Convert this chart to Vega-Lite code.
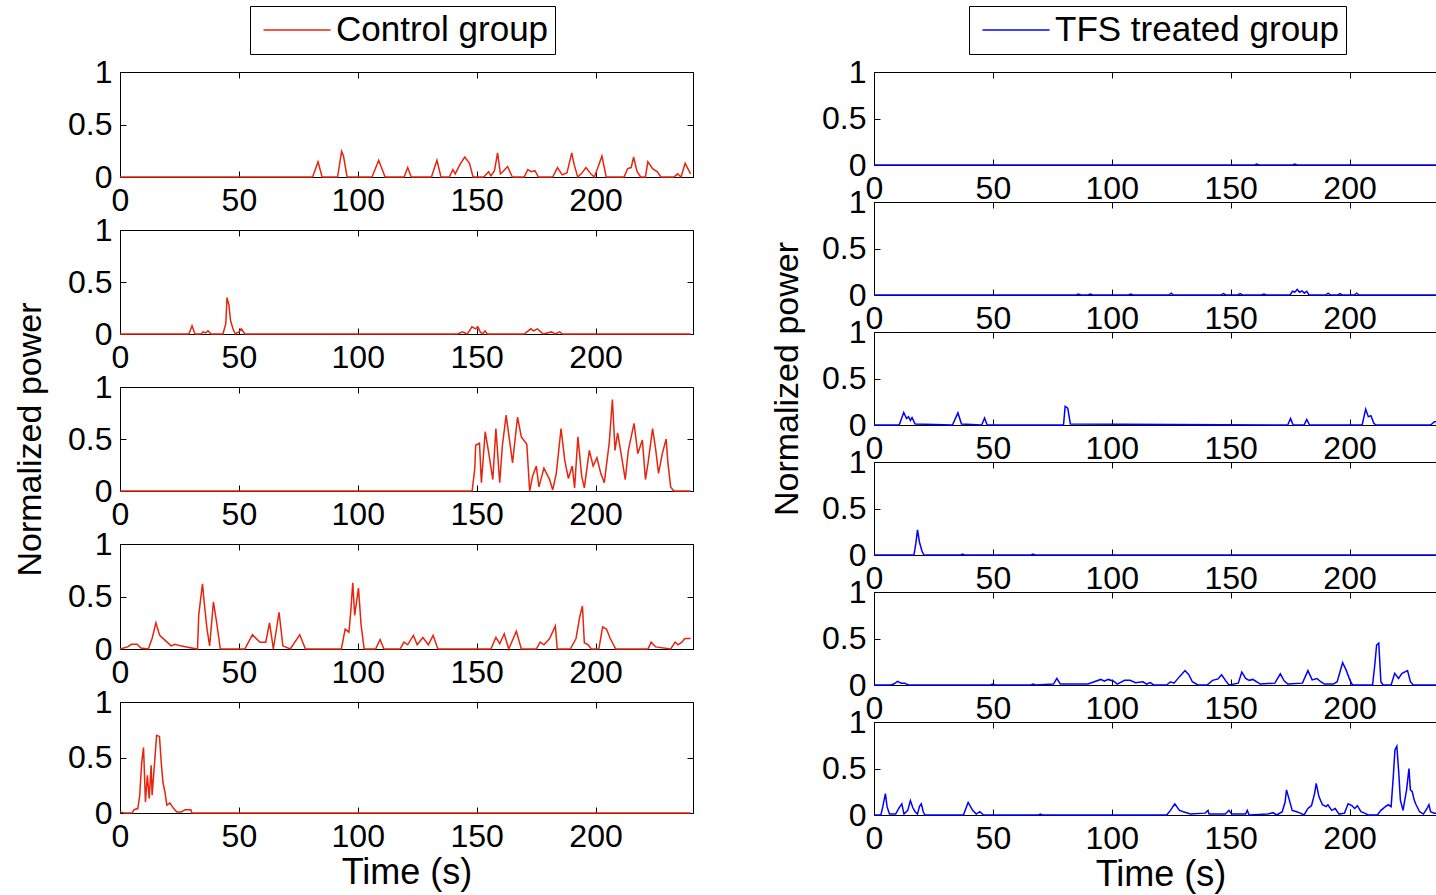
{
"$schema": "https://vega.github.io/schema/vega-lite/v6.json",
"background": "white",
"padding": {"left": 13, "top": 5, "right": 5, "bottom": 5},
"config": {
  "font": "Liberation Sans",
  "view": {"stroke": "black", "strokeWidth": 1},
  "axis": {"domainColor": "black", "tickColor": "black", "tickSize": -6, "labelPadding": 14, "labelFont": "Liberation Sans", "labelFontSize": 32, "labelColor": "black", "titleFont": "Liberation Sans", "titleFontSize": 34, "titleFontWeight": "normal", "titleColor": "black", "grid": false, "labelFlush": false, "labelOverlap": false, "labelBound": false},
  "legend": {"title": null, "orient": "none", "symbolType": "M-2,0H2", "symbolSize": 1125, "symbolStrokeWidth": 1.5, "symbolOffset": 23, "labelOffset": 21, "labelLimit": 0, "labelFontSize": 35, "labelFont": "Liberation Sans", "labelColor": "black", "strokeColor": "black", "fillColor": "white", "padding": 6}
},
"datasets": {
  "c1": [{"t":0,"p":0},{"t":81,"p":0},{"t":83.3,"p":0.145},{"t":85,"p":0},{"t":91.5,"p":0},{"t":93.2,"p":0.245},{"t":94,"p":0.2},{"t":95.5,"p":0},{"t":106,"p":0},{"t":108.8,"p":0.16},{"t":111.5,"p":0},{"t":119.5,"p":0},{"t":121,"p":0.09},{"t":122.5,"p":0},{"t":131,"p":0},{"t":133.3,"p":0.16},{"t":135,"p":0},{"t":138.5,"p":0},{"t":140,"p":0.07},{"t":141,"p":0.03},{"t":143,"p":0.12},{"t":145,"p":0.19},{"t":147,"p":0.13},{"t":148.5,"p":0},{"t":153,"p":0},{"t":155,"p":0.05},{"t":156,"p":0.01},{"t":157.5,"p":0.06},{"t":158.8,"p":0.23},{"t":160,"p":0.03},{"t":161,"p":0.05},{"t":163,"p":0.1},{"t":165,"p":0},{"t":170,"p":0},{"t":171.5,"p":0.07},{"t":173,"p":0.05},{"t":174.5,"p":0.06},{"t":176,"p":0},{"t":182,"p":0},{"t":184,"p":0.09},{"t":186,"p":0.02},{"t":188,"p":0.04},{"t":190,"p":0.23},{"t":191,"p":0.12},{"t":192.5,"p":0},{"t":194,"p":0.03},{"t":196,"p":0.09},{"t":198,"p":0.03},{"t":199.5,"p":0},{"t":201,"p":0.09},{"t":202.7,"p":0.2},{"t":204.5,"p":0},{"t":212,"p":0},{"t":213.5,"p":0.08},{"t":215,"p":0.09},{"t":216,"p":0.19},{"t":217.5,"p":0.05},{"t":219,"p":0},{"t":221,"p":0},{"t":222,"p":0.145},{"t":224,"p":0.08},{"t":226,"p":0.05},{"t":227.5,"p":0},{"t":233,"p":0},{"t":234.5,"p":0.03},{"t":236,"p":0},{"t":237.7,"p":0.13},{"t":240,"p":0.03}],
  "c2": [{"t":0,"p":0},{"t":29,"p":0},{"t":30.3,"p":0.08},{"t":31.5,"p":0},{"t":34,"p":0},{"t":35,"p":0.02},{"t":36,"p":0.01},{"t":37,"p":0.03},{"t":38.3,"p":0},{"t":43.3,"p":0},{"t":44.5,"p":0.1},{"t":45,"p":0.35},{"t":45.8,"p":0.28},{"t":46.5,"p":0.13},{"t":47.5,"p":0.05},{"t":48.5,"p":0},{"t":50,"p":0.02},{"t":51,"p":0.05},{"t":52.5,"p":0},{"t":142,"p":0},{"t":144,"p":0.02},{"t":146,"p":0},{"t":147,"p":0.03},{"t":148,"p":0.07},{"t":149.5,"p":0.05},{"t":150.5,"p":0.07},{"t":151.5,"p":0.02},{"t":152.5,"p":0},{"t":153.5,"p":0.03},{"t":154.5,"p":0},{"t":170,"p":0},{"t":172.8,"p":0.05},{"t":174,"p":0.03},{"t":175.5,"p":0.05},{"t":177,"p":0.02},{"t":178,"p":0},{"t":181.5,"p":0.02},{"t":183,"p":0},{"t":185,"p":0.02},{"t":186,"p":0},{"t":240,"p":0}],
  "c3": [{"t":0,"p":0},{"t":148.1,"p":0},{"t":149.2,"p":0.21},{"t":149.6,"p":0.44},{"t":151.2,"p":0.46},{"t":152,"p":0.08},{"t":153.6,"p":0.57},{"t":155.2,"p":0.35},{"t":156.8,"p":0.11},{"t":158.1,"p":0.6},{"t":159.7,"p":0.08},{"t":160.8,"p":0.43},{"t":162.4,"p":0.73},{"t":164,"p":0.46},{"t":165.1,"p":0.27},{"t":167.2,"p":0.71},{"t":168.8,"p":0.52},{"t":171.1,"p":0.45},{"t":172.3,"p":0},{"t":173.5,"p":0.14},{"t":175.1,"p":0.24},{"t":176.2,"p":0.04},{"t":178.3,"p":0.22},{"t":180.7,"p":0.11},{"t":182,"p":0.01},{"t":183.5,"p":0.17},{"t":185.5,"p":0.6},{"t":187.1,"p":0.29},{"t":188.6,"p":0.12},{"t":190.2,"p":0.24},{"t":191.2,"p":0.03},{"t":192.6,"p":0.52},{"t":194.2,"p":0.14},{"t":195.3,"p":0.03},{"t":197.4,"p":0.39},{"t":199,"p":0.24},{"t":200.6,"p":0.32},{"t":202.2,"p":0.17},{"t":203.7,"p":0.08},{"t":205.8,"p":0.47},{"t":207.1,"p":0.88},{"t":208.2,"p":0.39},{"t":209.3,"p":0.56},{"t":210.9,"p":0.34},{"t":212.5,"p":0.11},{"t":213.8,"p":0.39},{"t":216.2,"p":0.65},{"t":217.8,"p":0.36},{"t":219.7,"p":0.49},{"t":221,"p":0.11},{"t":222.1,"p":0.27},{"t":224,"p":0.6},{"t":225.3,"p":0.4},{"t":226.5,"p":0.17},{"t":228.1,"p":0.36},{"t":229.7,"p":0.5},{"t":230.5,"p":0.26},{"t":231.6,"p":0.04},{"t":232.9,"p":0},{"t":240,"p":0}],
  "c4": [{"t":0,"p":0},{"t":3.2,"p":0.02},{"t":4.8,"p":0.045},{"t":7.2,"p":0.045},{"t":8.8,"p":0.01},{"t":11.9,"p":0},{"t":13.5,"p":0.1},{"t":15.1,"p":0.25},{"t":16.7,"p":0.13},{"t":19.1,"p":0.08},{"t":21.5,"p":0.03},{"t":23.1,"p":0.045},{"t":25.5,"p":0.03},{"t":27.9,"p":0.02},{"t":30.2,"p":0.01},{"t":32.6,"p":0},{"t":33.1,"p":0.32},{"t":34.2,"p":0.53},{"t":34.7,"p":0.62},{"t":35.3,"p":0.47},{"t":36.6,"p":0.19},{"t":37.7,"p":0.03},{"t":39.3,"p":0.45},{"t":40.6,"p":0.26},{"t":42.2,"p":0},{"t":52.5,"p":0},{"t":55.7,"p":0.135},{"t":58.9,"p":0.065},{"t":61.3,"p":0.065},{"t":62.9,"p":0.25},{"t":64.5,"p":0},{"t":66.9,"p":0.35},{"t":68.5,"p":0.03},{"t":71.6,"p":0},{"t":75.6,"p":0.135},{"t":78,"p":0},{"t":93.1,"p":0},{"t":94.7,"p":0.19},{"t":96.3,"p":0.16},{"t":97.1,"p":0.37},{"t":97.9,"p":0.63},{"t":98.7,"p":0.32},{"t":99.5,"p":0.45},{"t":100.3,"p":0.58},{"t":101.4,"p":0.23},{"t":102.7,"p":0},{"t":107.5,"p":0},{"t":109.4,"p":0.09},{"t":111,"p":0},{"t":117.8,"p":0},{"t":119.4,"p":0.065},{"t":121,"p":0.04},{"t":123.4,"p":0.13},{"t":125,"p":0.04},{"t":127.4,"p":0.11},{"t":129.7,"p":0.04},{"t":131.7,"p":0.13},{"t":133.7,"p":0},{"t":156,"p":0},{"t":158.1,"p":0.11},{"t":159.7,"p":0.05},{"t":161.6,"p":0.145},{"t":163.5,"p":0},{"t":166.7,"p":0.17},{"t":168.8,"p":0},{"t":175.1,"p":0},{"t":176.7,"p":0.065},{"t":178.3,"p":0.04},{"t":180.7,"p":0.1},{"t":183.1,"p":0.22},{"t":183.9,"p":0},{"t":189.4,"p":0},{"t":191.8,"p":0.1},{"t":193.4,"p":0.31},{"t":194.5,"p":0.41},{"t":195.3,"p":0.06},{"t":196.9,"p":0.04},{"t":198.2,"p":0},{"t":201.4,"p":0},{"t":203,"p":0.21},{"t":204.6,"p":0.19},{"t":206.2,"p":0.1},{"t":208.5,"p":0},{"t":222.1,"p":0},{"t":223.4,"p":0.065},{"t":225.3,"p":0.02},{"t":231.6,"p":0},{"t":233.5,"p":0.065},{"t":234.7,"p":0.04},{"t":236.3,"p":0.065},{"t":237.6,"p":0.1},{"t":240,"p":0.1}],
  "c5": [{"t":0,"p":0.01},{"t":1.9,"p":0},{"t":5.1,"p":0},{"t":5.9,"p":0.03},{"t":7.5,"p":0.04},{"t":8.3,"p":0.16},{"t":9.1,"p":0.45},{"t":9.9,"p":0.59},{"t":10.7,"p":0.1},{"t":11.5,"p":0.34},{"t":12.3,"p":0.13},{"t":13.1,"p":0.43},{"t":13.5,"p":0.16},{"t":14.6,"p":0.47},{"t":15.4,"p":0.7},{"t":16.6,"p":0.69},{"t":17.4,"p":0.44},{"t":18.1,"p":0.27},{"t":18.9,"p":0.19},{"t":19.7,"p":0.07},{"t":21,"p":0.09},{"t":22.6,"p":0.04},{"t":23.9,"p":0.01},{"t":25.8,"p":0.01},{"t":27.4,"p":0.03},{"t":29.8,"p":0.03},{"t":30.2,"p":0},{"t":240,"p":0}],
  "r1": [{"t":0,"p":0},{"t":160,"p":0},{"t":161,"p":0.01},{"t":162,"p":0},{"t":176,"p":0},{"t":177,"p":0.01},{"t":178,"p":0},{"t":240,"p":0}],
  "r2": [{"t":0,"p":0},{"t":85,"p":0},{"t":86,"p":0.01},{"t":87,"p":0},{"t":90,"p":0},{"t":91,"p":0.01},{"t":92,"p":0},{"t":107,"p":0},{"t":108,"p":0.01},{"t":109,"p":0},{"t":124,"p":0},{"t":125,"p":0.02},{"t":126,"p":0},{"t":146,"p":0},{"t":147,"p":0.015},{"t":148,"p":0},{"t":153,"p":0},{"t":154,"p":0.015},{"t":155,"p":0},{"t":163,"p":0},{"t":164,"p":0.01},{"t":165,"p":0},{"t":175,"p":0},{"t":176,"p":0.04},{"t":177,"p":0.03},{"t":178,"p":0.06},{"t":179,"p":0.03},{"t":180,"p":0.045},{"t":181,"p":0.02},{"t":182,"p":0.04},{"t":183,"p":0},{"t":190,"p":0},{"t":191,"p":0.02},{"t":192,"p":0},{"t":195,"p":0},{"t":196,"p":0.015},{"t":197,"p":0},{"t":202,"p":0},{"t":203,"p":0.02},{"t":204,"p":0},{"t":240,"p":0}],
  "r3": [{"t":0,"p":0},{"t":10.6,"p":0},{"t":12.5,"p":0.135},{"t":13.7,"p":0.07},{"t":14.5,"p":0.09},{"t":15.3,"p":0.05},{"t":16,"p":0.08},{"t":17.3,"p":0.01},{"t":33,"p":0},{"t":35.3,"p":0.13},{"t":36.8,"p":0.01},{"t":45.3,"p":0},{"t":46.5,"p":0.075},{"t":47.6,"p":0},{"t":79.7,"p":0},{"t":80.4,"p":0.2},{"t":81.5,"p":0.18},{"t":82.6,"p":0.01},{"t":174,"p":0},{"t":175.2,"p":0.07},{"t":176.3,"p":0},{"t":180.9,"p":0},{"t":182,"p":0.06},{"t":183.2,"p":0},{"t":205.3,"p":0},{"t":206.8,"p":0.17},{"t":207.9,"p":0.09},{"t":209,"p":0.1},{"t":210.2,"p":0.02},{"t":211,"p":0},{"t":234.1,"p":0},{"t":235.7,"p":0.035},{"t":240,"p":0.03}],
  "r4": [{"t":0,"p":0},{"t":16.8,"p":0},{"t":17.6,"p":0.125},{"t":18.3,"p":0.27},{"t":19.1,"p":0.14},{"t":20.2,"p":0.04},{"t":21,"p":0},{"t":36.5,"p":0},{"t":37.3,"p":0.01},{"t":38,"p":0},{"t":66,"p":0},{"t":66.9,"p":0.01},{"t":67.7,"p":0},{"t":240,"p":0}],
  "r5": [{"t":0,"p":0},{"t":7,"p":0},{"t":8.3,"p":0.01},{"t":9.9,"p":0.04},{"t":11.4,"p":0.02},{"t":12.9,"p":0.02},{"t":14.5,"p":0},{"t":49,"p":0},{"t":49.9,"p":0.01},{"t":51,"p":0},{"t":66,"p":0},{"t":66.9,"p":0.01},{"t":68,"p":0},{"t":75.5,"p":0.01},{"t":76.9,"p":0.07},{"t":78.4,"p":0.01},{"t":90,"p":0.01},{"t":95.4,"p":0.06},{"t":96.9,"p":0.04},{"t":98.5,"p":0.06},{"t":100.8,"p":0.04},{"t":102.3,"p":0.01},{"t":105.4,"p":0.05},{"t":107.7,"p":0.05},{"t":110,"p":0.025},{"t":113.1,"p":0.035},{"t":114.7,"p":0.01},{"t":116.2,"p":0.025},{"t":117.7,"p":0},{"t":123.1,"p":0},{"t":124.7,"p":0.035},{"t":126.2,"p":0.02},{"t":128.5,"p":0.09},{"t":130.8,"p":0.155},{"t":132.4,"p":0.11},{"t":133.9,"p":0.035},{"t":136.2,"p":0},{"t":140.1,"p":0},{"t":142.4,"p":0.05},{"t":144.7,"p":0.065},{"t":146.2,"p":0.11},{"t":147.8,"p":0.05},{"t":149.3,"p":0},{"t":153.2,"p":0.02},{"t":154.7,"p":0.14},{"t":156.3,"p":0.07},{"t":157.8,"p":0.05},{"t":159.3,"p":0.06},{"t":160.9,"p":0.035},{"t":162.4,"p":0.01},{"t":168.6,"p":0.02},{"t":170.9,"p":0.12},{"t":172.5,"p":0.045},{"t":174,"p":0.01},{"t":180.2,"p":0.02},{"t":182.5,"p":0.155},{"t":184.3,"p":0.055},{"t":186.3,"p":0.07},{"t":187.9,"p":0.035},{"t":189.4,"p":0.01},{"t":193.2,"p":0.01},{"t":194.8,"p":0.035},{"t":197.1,"p":0.24},{"t":198.6,"p":0.16},{"t":200.2,"p":0.05},{"t":201.3,"p":0},{"t":209.7,"p":0},{"t":210.6,"p":0.21},{"t":211.4,"p":0.43},{"t":212.3,"p":0.45},{"t":213.2,"p":0.035},{"t":214.1,"p":0},{"t":217.5,"p":0},{"t":219,"p":0.125},{"t":220.6,"p":0.07},{"t":222.1,"p":0.125},{"t":224.4,"p":0.155},{"t":225.6,"p":0.035},{"t":226.8,"p":0},{"t":240,"p":0}],
  "r6": [{"t":0,"p":0},{"t":2.9,"p":0},{"t":3.7,"p":0.09},{"t":4.8,"p":0.23},{"t":5.5,"p":0.09},{"t":6.5,"p":0.01},{"t":9.1,"p":0.01},{"t":10.6,"p":0.08},{"t":11.7,"p":0.12},{"t":12.6,"p":0.01},{"t":14.2,"p":0.05},{"t":15.3,"p":0.155},{"t":16.3,"p":0.08},{"t":17.3,"p":0.035},{"t":18.3,"p":0.01},{"t":19.1,"p":0.09},{"t":19.9,"p":0.12},{"t":20.7,"p":0.035},{"t":21.4,"p":0},{"t":37.6,"p":0},{"t":39.6,"p":0.135},{"t":41.5,"p":0.05},{"t":43,"p":0.01},{"t":44.5,"p":0.035},{"t":46.1,"p":0},{"t":69.2,"p":0},{"t":70,"p":0.01},{"t":70.7,"p":0},{"t":123.1,"p":0},{"t":124.7,"p":0.05},{"t":126.5,"p":0.12},{"t":128.5,"p":0.05},{"t":130.1,"p":0.035},{"t":133.1,"p":0.01},{"t":139.3,"p":0.02},{"t":140.5,"p":0.05},{"t":140.9,"p":0.01},{"t":147.8,"p":0.01},{"t":149.3,"p":0.05},{"t":150.4,"p":0.01},{"t":156.3,"p":0.01},{"t":157,"p":0.05},{"t":157.8,"p":0},{"t":165.5,"p":0.01},{"t":167.8,"p":0.025},{"t":169.4,"p":0},{"t":171.7,"p":0.035},{"t":172.9,"p":0.14},{"t":173.5,"p":0.27},{"t":174.7,"p":0.16},{"t":175.9,"p":0.05},{"t":177.8,"p":0.035},{"t":179.3,"p":0.02},{"t":180.9,"p":0},{"t":182.5,"p":0.07},{"t":184,"p":0.1},{"t":185.3,"p":0.23},{"t":186,"p":0.34},{"t":187.1,"p":0.2},{"t":188.6,"p":0.11},{"t":190.2,"p":0.09},{"t":190.9,"p":0.11},{"t":192.5,"p":0.05},{"t":194,"p":0.07},{"t":195.6,"p":0.01},{"t":197.9,"p":0.02},{"t":199.4,"p":0.12},{"t":201,"p":0.1},{"t":202.2,"p":0.07},{"t":203.3,"p":0.1},{"t":204.8,"p":0.035},{"t":206.3,"p":0.02},{"t":207.9,"p":0},{"t":211.7,"p":0},{"t":213.2,"p":0.05},{"t":215.1,"p":0.09},{"t":216.3,"p":0.11},{"t":217.5,"p":0.09},{"t":218.4,"p":0.41},{"t":219.1,"p":0.7},{"t":219.9,"p":0.74},{"t":220.7,"p":0.46},{"t":221.4,"p":0.16},{"t":222.5,"p":0.05},{"t":224,"p":0.27},{"t":225,"p":0.5},{"t":225.6,"p":0.27},{"t":226.4,"p":0.25},{"t":227.2,"p":0.16},{"t":228,"p":0.11},{"t":229.5,"p":0.035},{"t":231.1,"p":0.01},{"t":232.6,"p":0.07},{"t":233.4,"p":0.11},{"t":234.1,"p":0.035},{"t":235.6,"p":0.02},{"t":240,"p":0.02}]
},
"resolve": {"scale": {"color": "independent"}, "legend": {"color": "independent"}},
"spacing": 75,
"hconcat": [
 {"bounds": "flush", "spacing": 53, "vconcat": [
  {"width": 573, "height": 105, "data": {"name": "c1"}, "resolve": {"axis": {"x": "independent", "y": "independent"}}, "layer": [
    {"mark": {"type": "line", "strokeWidth": 1.5}, "encoding": {
      "x": {"field": "t", "type": "quantitative", "scale": {"domain": [0, 241], "nice": false, "zero": false}, "axis": {"values": [0,50,100,150,200], "title": null}},
      "y": {"field": "p", "type": "quantitative", "scale": {"domain": [0, 1], "nice": false}, "axis": {"values": [0,0.5,1], "format": "~g", "title": null}},
      "color": {"datum": "Control group", "type": "nominal", "scale": {"range": ["#e8240c"]}, "legend": {"legendX": 130, "legendY": -66}}}},
    {"mark": {"type": "line", "opacity": 0}, "encoding": {
      "x": {"field": "t", "type": "quantitative", "axis": {"orient": "top", "values": [0,50,100,150,200], "labels": false, "domain": false, "title": null}},
      "y": {"field": "p", "type": "quantitative", "axis": {"orient": "right", "values": [0,0.5,1], "labels": false, "domain": false, "title": null}}}}
  ]},
  {"width": 573, "height": 104, "data": {"name": "c2"}, "resolve": {"axis": {"x": "independent", "y": "independent"}}, "layer": [
    {"mark": {"type": "line", "strokeWidth": 1.5, "color": "#e8240c"}, "encoding": {
      "x": {"field": "t", "type": "quantitative", "scale": {"domain": [0, 241], "nice": false, "zero": false}, "axis": {"values": [0,50,100,150,200], "title": null}},
      "y": {"field": "p", "type": "quantitative", "scale": {"domain": [0, 1], "nice": false}, "axis": {"values": [0,0.5,1], "format": "~g", "title": null}}}},
    {"mark": {"type": "line", "opacity": 0}, "encoding": {
      "x": {"field": "t", "type": "quantitative", "axis": {"orient": "top", "values": [0,50,100,150,200], "labels": false, "domain": false, "title": null}},
      "y": {"field": "p", "type": "quantitative", "axis": {"orient": "right", "values": [0,0.5,1], "labels": false, "domain": false, "title": null}}}}
  ]},
  {"width": 573, "height": 104, "data": {"name": "c3"}, "resolve": {"axis": {"x": "independent", "y": "independent"}}, "layer": [
    {"mark": {"type": "line", "strokeWidth": 1.5, "color": "#e8240c"}, "encoding": {
      "x": {"field": "t", "type": "quantitative", "scale": {"domain": [0, 241], "nice": false, "zero": false}, "axis": {"values": [0,50,100,150,200], "title": null}},
      "y": {"field": "p", "type": "quantitative", "scale": {"domain": [0, 1], "nice": false}, "axis": {"values": [0,0.5,1], "format": "~g", "title": "Normalized power", "titlePadding": 20}}}},
    {"mark": {"type": "line", "opacity": 0}, "encoding": {
      "x": {"field": "t", "type": "quantitative", "axis": {"orient": "top", "values": [0,50,100,150,200], "labels": false, "domain": false, "title": null}},
      "y": {"field": "p", "type": "quantitative", "axis": {"orient": "right", "values": [0,0.5,1], "labels": false, "domain": false, "title": null}}}}
  ]},
  {"width": 573, "height": 105, "data": {"name": "c4"}, "resolve": {"axis": {"x": "independent", "y": "independent"}}, "layer": [
    {"mark": {"type": "line", "strokeWidth": 1.5, "color": "#e8240c"}, "encoding": {
      "x": {"field": "t", "type": "quantitative", "scale": {"domain": [0, 241], "nice": false, "zero": false}, "axis": {"values": [0,50,100,150,200], "title": null}},
      "y": {"field": "p", "type": "quantitative", "scale": {"domain": [0, 1], "nice": false}, "axis": {"values": [0,0.5,1], "format": "~g", "title": null}}}},
    {"mark": {"type": "line", "opacity": 0}, "encoding": {
      "x": {"field": "t", "type": "quantitative", "axis": {"orient": "top", "values": [0,50,100,150,200], "labels": false, "domain": false, "title": null}},
      "y": {"field": "p", "type": "quantitative", "axis": {"orient": "right", "values": [0,0.5,1], "labels": false, "domain": false, "title": null}}}}
  ]},
  {"width": 573, "height": 111, "data": {"name": "c5"}, "resolve": {"axis": {"x": "independent", "y": "independent"}}, "layer": [
    {"mark": {"type": "line", "strokeWidth": 1.5, "color": "#e8240c"}, "encoding": {
      "x": {"field": "t", "type": "quantitative", "scale": {"domain": [0, 241], "nice": false, "zero": false}, "axis": {"values": [0,50,100,150,200], "title": "Time (s)", "titlePadding": 3, "titleFontSize": 36}},
      "y": {"field": "p", "type": "quantitative", "scale": {"domain": [0, 1], "nice": false}, "axis": {"values": [0,0.5,1], "format": "~g", "title": null}}}},
    {"mark": {"type": "line", "opacity": 0}, "encoding": {
      "x": {"field": "t", "type": "quantitative", "axis": {"orient": "top", "values": [0,50,100,150,200], "labels": false, "domain": false, "title": null}},
      "y": {"field": "p", "type": "quantitative", "axis": {"orient": "right", "values": [0,0.5,1], "labels": false, "domain": false, "title": null}}}}
  ]}
 ]},
 {"bounds": "flush", "spacing": 37, "vconcat": [
  {"width": 573, "height": 93, "data": {"name": "r1"}, "resolve": {"axis": {"x": "independent", "y": "independent"}}, "layer": [
    {"mark": {"type": "line", "strokeWidth": 1.5}, "encoding": {
      "x": {"field": "t", "type": "quantitative", "scale": {"domain": [0, 241], "nice": false, "zero": false}, "axis": {"values": [0,50,100,150,200], "title": null}},
      "y": {"field": "p", "type": "quantitative", "scale": {"domain": [0, 1], "nice": false}, "axis": {"values": [0,0.5,1], "format": "~g", "title": null}},
      "color": {"datum": "TFS treated group", "type": "nominal", "scale": {"range": ["#0000ff"]}, "legend": {"legendX": 95, "legendY": -66}}}},
    {"mark": {"type": "line", "opacity": 0}, "encoding": {
      "x": {"field": "t", "type": "quantitative", "axis": {"orient": "top", "values": [0,50,100,150,200], "labels": false, "domain": false, "title": null}},
      "y": {"field": "p", "type": "quantitative", "axis": {"orient": "right", "values": [0,0.5,1], "labels": false, "domain": false, "title": null}}}}
  ]},
  {"width": 573, "height": 93, "data": {"name": "r2"}, "resolve": {"axis": {"x": "independent", "y": "independent"}}, "layer": [
    {"mark": {"type": "line", "strokeWidth": 1.5, "color": "#0000ff"}, "encoding": {
      "x": {"field": "t", "type": "quantitative", "scale": {"domain": [0, 241], "nice": false, "zero": false}, "axis": {"values": [0,50,100,150,200], "title": null}},
      "y": {"field": "p", "type": "quantitative", "scale": {"domain": [0, 1], "nice": false}, "axis": {"values": [0,0.5,1], "format": "~g", "title": null}}}},
    {"mark": {"type": "line", "opacity": 0}, "encoding": {
      "x": {"field": "t", "type": "quantitative", "axis": {"orient": "top", "values": [0,50,100,150,200], "labels": false, "domain": false, "title": null}},
      "y": {"field": "p", "type": "quantitative", "axis": {"orient": "right", "values": [0,0.5,1], "labels": false, "domain": false, "title": null}}}}
  ]},
  {"width": 573, "height": 93, "data": {"name": "r3"}, "resolve": {"axis": {"x": "independent", "y": "independent"}}, "layer": [
    {"mark": {"type": "line", "strokeWidth": 1.5, "color": "#0000ff"}, "encoding": {
      "x": {"field": "t", "type": "quantitative", "scale": {"domain": [0, 241], "nice": false, "zero": false}, "axis": {"values": [0,50,100,150,200], "title": null}},
      "y": {"field": "p", "type": "quantitative", "scale": {"domain": [0, 1], "nice": false}, "axis": {"values": [0,0.5,1], "format": "~g", "title": "Normalized power", "titlePadding": 17}}}},
    {"mark": {"type": "line", "opacity": 0}, "encoding": {
      "x": {"field": "t", "type": "quantitative", "axis": {"orient": "top", "values": [0,50,100,150,200], "labels": false, "domain": false, "title": null}},
      "y": {"field": "p", "type": "quantitative", "axis": {"orient": "right", "values": [0,0.5,1], "labels": false, "domain": false, "title": null}}}}
  ]},
  {"width": 573, "height": 93, "data": {"name": "r4"}, "resolve": {"axis": {"x": "independent", "y": "independent"}}, "layer": [
    {"mark": {"type": "line", "strokeWidth": 1.5, "color": "#0000ff"}, "encoding": {
      "x": {"field": "t", "type": "quantitative", "scale": {"domain": [0, 241], "nice": false, "zero": false}, "axis": {"values": [0,50,100,150,200], "title": null}},
      "y": {"field": "p", "type": "quantitative", "scale": {"domain": [0, 1], "nice": false}, "axis": {"values": [0,0.5,1], "format": "~g", "title": null}}}},
    {"mark": {"type": "line", "opacity": 0}, "encoding": {
      "x": {"field": "t", "type": "quantitative", "axis": {"orient": "top", "values": [0,50,100,150,200], "labels": false, "domain": false, "title": null}},
      "y": {"field": "p", "type": "quantitative", "axis": {"orient": "right", "values": [0,0.5,1], "labels": false, "domain": false, "title": null}}}}
  ]},
  {"width": 573, "height": 93, "data": {"name": "r5"}, "resolve": {"axis": {"x": "independent", "y": "independent"}}, "layer": [
    {"mark": {"type": "line", "strokeWidth": 1.5, "color": "#0000ff"}, "encoding": {
      "x": {"field": "t", "type": "quantitative", "scale": {"domain": [0, 241], "nice": false, "zero": false}, "axis": {"values": [0,50,100,150,200], "title": null}},
      "y": {"field": "p", "type": "quantitative", "scale": {"domain": [0, 1], "nice": false}, "axis": {"values": [0,0.5,1], "format": "~g", "title": null}}}},
    {"mark": {"type": "line", "opacity": 0}, "encoding": {
      "x": {"field": "t", "type": "quantitative", "axis": {"orient": "top", "values": [0,50,100,150,200], "labels": false, "domain": false, "title": null}},
      "y": {"field": "p", "type": "quantitative", "axis": {"orient": "right", "values": [0,0.5,1], "labels": false, "domain": false, "title": null}}}}
  ]},
  {"width": 573, "height": 93, "data": {"name": "r6"}, "resolve": {"axis": {"x": "independent", "y": "independent"}}, "layer": [
    {"mark": {"type": "line", "strokeWidth": 1.5, "color": "#0000ff"}, "encoding": {
      "x": {"field": "t", "type": "quantitative", "scale": {"domain": [0, 241], "nice": false, "zero": false}, "axis": {"values": [0,50,100,150,200], "title": "Time (s)", "titlePadding": 3, "titleFontSize": 36}},
      "y": {"field": "p", "type": "quantitative", "scale": {"domain": [0, 1], "nice": false}, "axis": {"values": [0,0.5,1], "format": "~g", "title": null}}}},
    {"mark": {"type": "line", "opacity": 0}, "encoding": {
      "x": {"field": "t", "type": "quantitative", "axis": {"orient": "top", "values": [0,50,100,150,200], "labels": false, "domain": false, "title": null}},
      "y": {"field": "p", "type": "quantitative", "axis": {"orient": "right", "values": [0,0.5,1], "labels": false, "domain": false, "title": null}}}}
  ]}
 ]}
]
}
